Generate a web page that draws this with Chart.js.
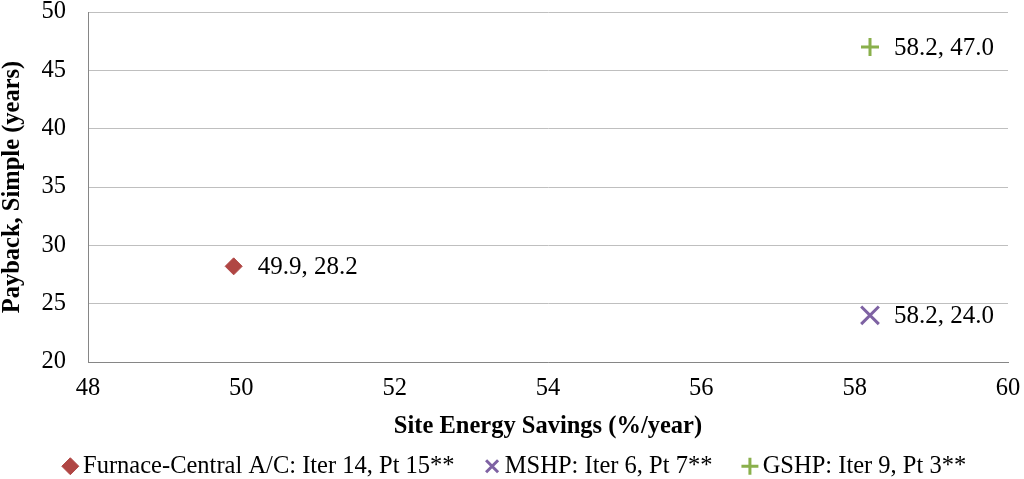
<!DOCTYPE html>
<html>
<head>
<meta charset="utf-8">
<script src="https://cdn.jsdelivr.net/npm/chart.js@4"></script>
<style>
  html, body { margin: 0; padding: 0; background: #ffffff; }
  #wrap { width: 1024px; height: 479px; }
</style>
</head>
<body>
<div id="wrap"><canvas id="c" width="1024" height="479"></canvas></div>
<script>
// ---- data ----
const seriesNames = ['Furnace-Central A/C: Iter 14, Pt 15**', 'MSHP: Iter 6, Pt 7**', 'GSHP: Iter 9, Pt 3**'];
const savingsX = [49.9, 58.2, 58.2];
const paybackY = [28.2, 24.0, 47.0];
const xAxisRange = [48, 60, 2];
const yAxisRange = [20, 50, 5];
const xTitle = 'Site Energy Savings (%/year)';
const yTitle = 'Payback, Simple (years)';

// ---- styles ----
const colors = ['#B04644', '#7E62A3', '#8AB04C'];
const styles = ['rectRot', 'crossRot', 'cross'];
const radii = [8.5, 12.5, 9];
const borders = [1, 3, 3];
const SERIF = '"Liberation Serif", "Times New Roman", serif';
const FS = 24.5;
const LEGEND_SHIFT = 14;

const datasets = seriesNames.map((name, i) => ({
  label: name,
  data: [{ x: savingsX[i], y: paybackY[i] }],
  pointStyle: styles[i],
  pointRadius: radii[i],
  pointHoverRadius: radii[i],
  backgroundColor: colors[i],
  borderColor: colors[i],
  borderWidth: borders[i],
  pointBorderWidth: borders[i],
  showLine: false
}));

const dataLabels = {
  id: 'dataLabels',
  afterDatasetsDraw(chart) {
    const ctx = chart.ctx;
    ctx.save();
    ctx.font = '25px ' + SERIF;
    ctx.fillStyle = '#000000';
    ctx.textAlign = 'left';
    ctx.textBaseline = 'middle';
    chart.data.datasets.forEach((ds, i) => {
      const meta = chart.getDatasetMeta(i);
      meta.data.forEach((pt, j) => {
        const d = ds.data[j];
        ctx.fillText(d.x.toFixed(1) + ', ' + d.y.toFixed(1), pt.x + 24, pt.y + 1);
      });
    });
    ctx.restore();
  }
};

const legendShift = {
  id: 'legendShift',
  afterLayout(chart) {
    if (chart.legend) {
      chart.legend.left += LEGEND_SHIFT;
      chart.legend.right += LEGEND_SHIFT;
    }
  }
};

new Chart(document.getElementById('c'), {
  type: 'scatter',
  data: { datasets },
  options: {
    responsive: false,
    animation: false,
    devicePixelRatio: 1,
    layout: { autoPadding: false, padding: { top: 12, right: 16, left: 0, bottom: 0 } },
    plugins: {
      legend: {
        position: 'bottom',
        maxHeight: 62,
        labels: {
          usePointStyle: true,
          boxWidth: 1,
          boxHeight: 12,
          padding: 37,
          color: '#000000',
          font: { family: SERIF, size: FS }
        }
      },
      tooltip: { enabled: false }
    },
    scales: {
      x: {
        type: 'linear',
        min: xAxisRange[0],
        max: xAxisRange[1],
        ticks: { stepSize: xAxisRange[2], color: '#000', padding: 12, font: { family: SERIF, size: FS } },
        grid: { display: false, drawTicks: false },
        border: { display: true, color: '#868686', width: 1 },
        title: { display: true, text: xTitle, color: '#000', font: { family: SERIF, size: FS, weight: 'bold' }, padding: { top: 0, bottom: -24 } },
        afterFit(scale) { scale.height = 55; scale.paddingLeft = 0; scale.paddingRight = 0; }
      },
      y: {
        type: 'linear',
        min: yAxisRange[0],
        max: yAxisRange[1],
        ticks: { stepSize: yAxisRange[2], color: '#000', padding: 22, font: { family: SERIF, size: FS } },
        grid: { display: true, drawTicks: false, color: '#BFBFBF', lineWidth: 1 },
        border: { display: true, color: '#868686', width: 1 },
        title: { display: true, text: yTitle, color: '#000', font: { family: SERIF, size: FS, weight: 'bold' }, padding: { top: -2, bottom: 0 } },
        afterFit(scale) { scale.width = 88; scale.paddingTop = 0; scale.paddingBottom = 0; }
      }
    }
  },
  plugins: [dataLabels, legendShift]
});
</script>
</body>
</html>
